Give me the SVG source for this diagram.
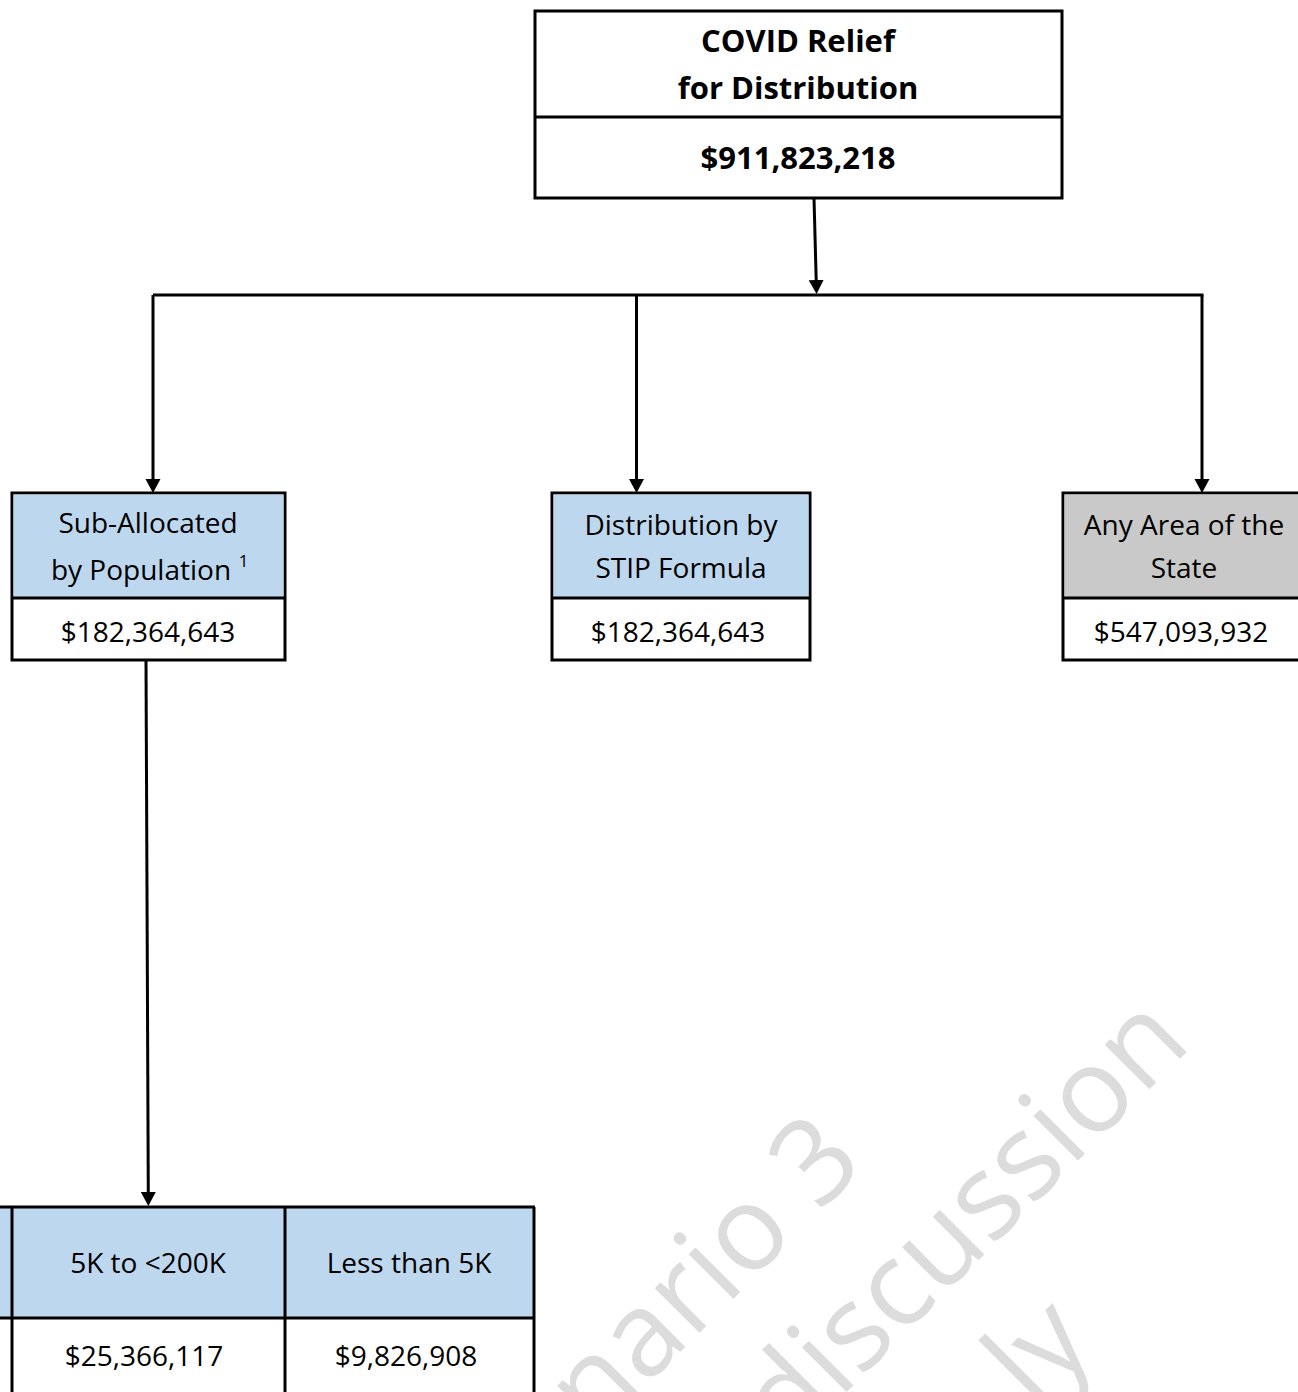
<svg xmlns="http://www.w3.org/2000/svg" width="1298" height="1392" viewBox="0 0 1298 1392">
<style>
.box{stroke:#000;stroke-width:3;}
.blue{fill:#BDD7EE;}
.gray{fill:#C9C9C9;}
.white{fill:#FFFFFF;}
.t{font-family:"Open Sans","Liberation Sans",sans-serif;font-size:28px;fill:#000;text-anchor:middle;}
.tb{font-family:"Open Sans","Liberation Sans",sans-serif;font-size:31px;font-weight:bold;fill:#000;text-anchor:middle;}
.wm{font-family:"Open Sans","Liberation Sans",sans-serif;font-size:118px;fill:#DCDCDC;}
.conn{stroke:#000;stroke-width:3;fill:none;}
</style>
<defs>
<marker id="ah" markerUnits="userSpaceOnUse" markerWidth="14" markerHeight="16" refX="4" refY="7.5" orient="auto">
<path d="M0,0 L14,7.5 L0,15 z" fill="#000"/>
</marker>
</defs>
<rect x="0" y="0" width="1298" height="1392" fill="#FFFFFF"/>

<g id="watermark" transform="rotate(-45)">
<text class="wm" x="-596" y="1437">nario 3</text>
<text class="wm" x="-468" y="1583">discussion</text>
<text class="wm" x="-266" y="1729">ly</text>
</g>

<g id="connectors">
<line class="conn" x1="814" y1="198" x2="816.3" y2="284" marker-end="url(#ah)"/>
<line class="conn" x1="153" y1="295" x2="1203.5" y2="295"/>
<line class="conn" x1="153" y1="295" x2="153" y2="483" marker-end="url(#ah)"/>
<line class="conn" x1="636.5" y1="295" x2="636.5" y2="483" marker-end="url(#ah)"/>
<line class="conn" x1="1202" y1="295" x2="1202" y2="483" marker-end="url(#ah)"/>
<line class="conn" x1="146" y1="660" x2="148.3" y2="1196" marker-end="url(#ah)"/>
</g>

<g id="node-covid">
<rect class="box white" x="535" y="11" width="527" height="187"/>
<line class="box" x1="535" y1="117" x2="1062" y2="117"/>
<text class="tb" x="798" y="52">COVID Relief</text>
<text class="tb" x="798" y="99">for Distribution</text>
<text class="tb" x="798" y="169">$911,823,218</text>
</g>

<g id="node-subpop">
<rect class="box white" x="12" y="493" width="273" height="167"/>
<rect class="blue" x="13.5" y="494.5" width="270" height="103"/>
<line class="box" x1="12" y1="598" x2="285" y2="598"/>
<text class="t" x="148" y="533">Sub-Allocated</text>
<text class="t" x="141" y="580">by Population</text>
<text x="243.5" y="567" font-family="Open Sans, Liberation Sans, sans-serif" font-size="17" fill="#000" text-anchor="middle">1</text>
<text class="t" x="148" y="642">$182,364,643</text>
</g>

<g id="node-stip">
<rect class="box white" x="552" y="493" width="258" height="167"/>
<rect class="blue" x="553.5" y="494.5" width="255" height="103"/>
<line class="box" x1="552" y1="598" x2="810" y2="598"/>
<text class="t" x="681" y="535">Distribution by</text>
<text class="t" x="681" y="578">STIP Formula</text>
<text class="t" x="678" y="642">$182,364,643</text>
</g>

<g id="node-anyarea">
<rect class="box white" x="1063" y="493" width="239" height="167"/>
<rect class="gray" x="1064.5" y="494.5" width="236" height="103"/>
<line class="box" x1="1063" y1="598" x2="1302" y2="598"/>
<text class="t" x="1184" y="535">Any Area of the</text>
<text class="t" x="1184" y="578">State</text>
<text class="t" x="1181" y="642">$547,093,932</text>
</g>

<g id="node-table">
<rect class="blue" x="-10" y="1207" width="545" height="111"/>
<rect class="white" x="-10" y="1318" width="545" height="100"/>
<line class="box" x1="-10" y1="1207" x2="535" y2="1207"/>
<line class="box" x1="-10" y1="1318" x2="535" y2="1318"/>
<line class="box" x1="12" y1="1207" x2="12" y2="1400"/>
<line class="box" x1="285" y1="1207" x2="285" y2="1400"/>
<line class="box" x1="534" y1="1207" x2="534" y2="1400"/>
<text class="t" x="148" y="1273">5K to &lt;200K</text>
<text class="t" x="409" y="1273">Less than 5K</text>
<text class="t" x="144" y="1366">$25,366,117</text>
<text class="t" x="406" y="1366">$9,826,908</text>
</g>
</svg>
